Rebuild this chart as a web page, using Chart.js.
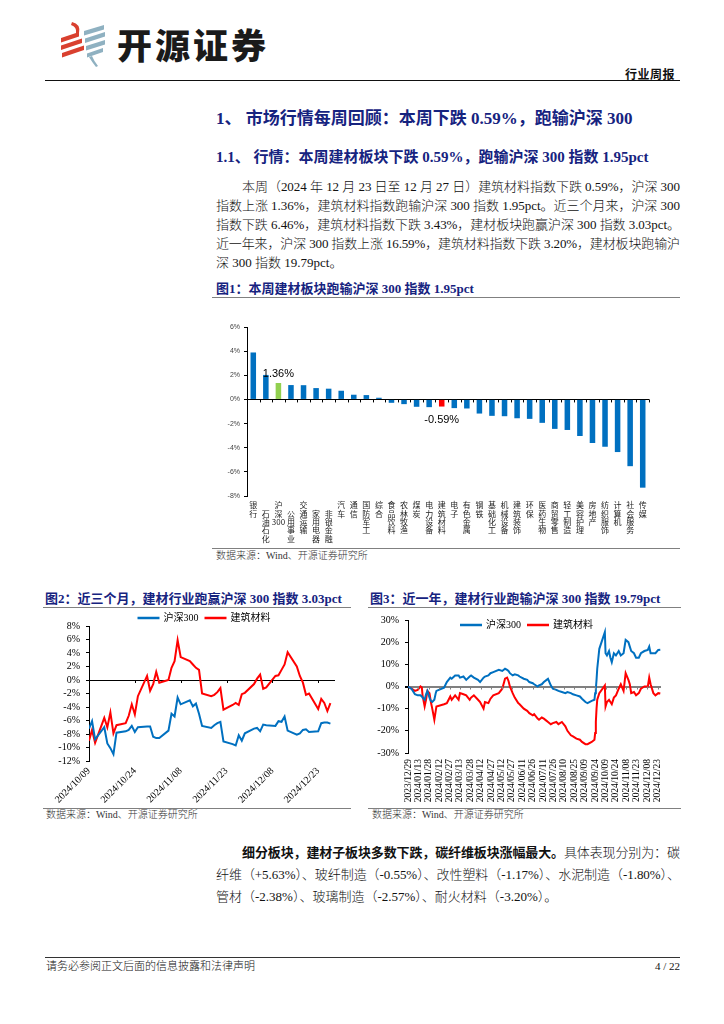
<!DOCTYPE html>
<html lang="zh-CN"><head><meta charset="utf-8">
<script src="https://cdn.jsdelivr.net/npm/chart.js@4.4.1/dist/chart.umd.min.js"></script>
<style>
html,body{margin:0;padding:0;background:#fff;}
body{width:724px;height:1024px;position:relative;overflow:hidden;font-family:"Liberation Serif","Noto Sans CJK SC",serif;color:#111;}
.a{position:absolute;white-space:nowrap;}
.navy{color:#16237f;font-weight:bold;}
.rule{position:absolute;height:0;border-top:1.5px solid #808080;}
.pl{position:absolute;font-size:13px;line-height:19px;white-space:nowrap;font-weight:300;}
.src{position:absolute;font-size:10px;line-height:12px;color:#333;white-space:nowrap;font-weight:300;}
.box{position:absolute;}
</style>
</head><body>
<svg class="a" style="left:0;top:0" width="724" height="80">
  <g fill="#d9402f">
    <path d="M72,22 Q81,24 79,33 L76,33 Q77,27 71,25 Z"/>
    <polygon points="61,38 79,32 79,36.5 61,42.5"/>
    <polygon points="61,45.5 82,38.5 82,43 61,50"/>
    <polygon points="62,53 84,45.5 84,50 62,57.5"/>
  </g>
  <g fill="#8fb1c1">
    <polygon points="84,31 104,25 104,29.5 84,35.5"/>
    <polygon points="85,38.5 105,32 105,36.5 85,43"/>
    <polygon points="86,46 105,40 105,44.5 86,50.5"/>
    <polygon points="87,53.5 103,48 103,52 87,57.5"/>
    <path d="M89,57 Q92,62 96,67 L98,66 Q94,61 92,56 Z"/>
  </g>
</svg>
<div class="a" style="left:117px;top:22px;font-family:'Noto Sans CJK SC',sans-serif;font-weight:900;font-size:35px;line-height:44px;letter-spacing:3px;color:#1a1a1a;">开源证券</div>
<div class="a" style="left:625px;top:66px;font-family:'Noto Sans CJK SC',sans-serif;font-weight:bold;font-size:12px;line-height:16px;letter-spacing:0.5px;color:#111;">行业周报</div>
<div class="rule" style="left:45px;top:80px;width:635px;border-top:1.5px solid #111;"></div>

<div class="a navy" style="left:216px;top:109px;font-size:17px;line-height:20px;">1、 市场行情每周回顾：本周下跌 0.59%，跑输沪深 300</div>
<div class="a navy" style="left:216px;top:147px;font-size:15px;line-height:20px;">1.1、 行情：本周建材板块下跌 0.59%，跑输沪深 300 指数 1.95pct</div>

<div class="pl" data-jw="438" style="left:242px;top:176.5px;">本周（2024 年 12 月 23 日至 12 月 27 日）建筑材料指数下跌 0.59%，沪深 300</div>
<div class="pl" data-jw="464" style="left:216px;top:195.5px;">指数上涨 1.36%，建筑材料指数跑输沪深 300 指数 1.95pct。近三个月来，沪深 300</div>
<div class="pl" data-jw="464" style="left:216px;top:214.5px;">指数下跌 6.46%，建筑材料指数下跌 3.43%，建材板块跑赢沪深 300 指数 3.03pct。</div>
<div class="pl" data-jw="464" style="left:216px;top:233.5px;">近一年来，沪深 300 指数上涨 16.59%，建筑材料指数下跌 3.20%，建材板块跑输沪</div>
<div class="pl" style="left:216px;top:252.5px;">深 300 指数 19.79pct。</div>

<div class="a navy" style="left:216px;top:279px;font-size:13px;line-height:20px;">图1：本周建材板块跑输沪深 300 指数 1.95pct</div>
<div class="rule" style="left:212px;top:297px;width:468px;"></div>
<div class="box" style="left:212px;top:300px;width:468px;height:248px;"><canvas id="c1"></canvas></div>
<div class="rule" style="left:212px;top:548px;width:468px;"></div>
<div class="src" style="left:216px;top:550px;">数据来源：Wind、开源证券研究所</div>

<div class="a navy" style="left:45px;top:589px;font-size:13px;line-height:20px;">图2：近三个月，建材行业跑赢沪深 300 指数 3.03pct</div>
<div class="rule" style="left:43px;top:607px;width:308px;"></div>
<div class="box" style="left:43px;top:608px;width:307px;height:200px;"><canvas id="c2"></canvas></div>
<div class="rule" style="left:43px;top:808px;width:308px;"></div>
<div class="src" style="left:46px;top:809px;">数据来源：Wind、开源证券研究所</div>

<div class="a navy" style="left:370px;top:589px;font-size:13px;line-height:20px;">图3：近一年，建材行业跑输沪深 300 指数 19.79pct</div>
<div class="rule" style="left:368px;top:607px;width:313px;"></div>
<div class="box" style="left:368px;top:608px;width:314px;height:200px;"><canvas id="c3"></canvas></div>
<div class="rule" style="left:368px;top:808px;width:313px;"></div>
<div class="src" style="left:372px;top:809px;">数据来源：Wind、开源证券研究所</div>

<div class="pl" data-jw="438" style="left:242px;top:841.5px;line-height:21px;"><b style="font-weight:bold">细分板块，建材子板块多数下跌，碳纤维板块涨幅最大。</b>具体表现分别为：碳</div>
<div class="pl" data-jw="464" style="left:216px;top:863.5px;line-height:21px;">纤维（+5.63%）、玻纤制造（-0.55%）、改性塑料（-1.17%）、水泥制造（-1.80%）、</div>
<div class="pl" style="left:216px;top:885.5px;line-height:21px;">管材（-2.38%）、玻璃制造（-2.57%）、耐火材料（-3.20%）。</div>

<div class="rule" style="left:45px;top:957px;width:635px;border-top:1.5px solid #333;"></div>
<div class="a" style="left:46px;top:959px;font-size:11px;line-height:14px;font-weight:300;">请务必参阅正文后面的信息披露和法律声明</div>
<div class="a" style="left:640px;top:959px;width:40px;text-align:right;font-size:11px;line-height:14px;">4 / 22</div>

<script>
// ---------- data ----------
const sectorNames = ['银行','石油石化','沪深300','公用事业','交通运输','家用电器','非银金融','汽车','通信','国防军工','综合','食品饮料','农林牧渔','煤炭','电力设备','建筑材料','电子','有色金属','钢铁','基础化工','机械设备','建筑装饰','环保','医药生物','商贸零售','轻工制造','美容护理','房地产','纺织服饰','计算机','社会服务','传媒'];
const weeklyChange = [3.89,2.03,1.36,1.19,1.18,0.94,0.89,0.72,0.39,0.36,0.14,-0.28,-0.39,-0.61,-0.64,-0.59,-0.72,-0.75,-1.17,-1.36,-1.39,-1.56,-1.61,-1.94,-2.44,-2.53,-3.03,-3.61,-3.92,-4.36,-5.53,-7.31];
const barTicks = [-8,-6,-4,-2,0,2,4,6];

const dates3m = ['2024-10-09','2024-10-10','2024-10-11','2024-10-14','2024-10-15','2024-10-16','2024-10-17','2024-10-18','2024-10-21','2024-10-22','2024-10-23','2024-10-24','2024-10-25','2024-10-28','2024-10-29','2024-10-30','2024-10-31','2024-11-01','2024-11-04','2024-11-05','2024-11-06','2024-11-07','2024-11-08','2024-11-11','2024-11-12','2024-11-13','2024-11-14','2024-11-15','2024-11-18','2024-11-19','2024-11-20','2024-11-21','2024-11-22','2024-11-25','2024-11-26','2024-11-27','2024-11-28','2024-11-29','2024-12-02','2024-12-03','2024-12-04','2024-12-05','2024-12-06','2024-12-09','2024-12-10','2024-12-11','2024-12-12','2024-12-13','2024-12-16','2024-12-17','2024-12-18','2024-12-19','2024-12-20','2024-12-23','2024-12-24','2024-12-25','2024-12-26','2024-12-27'];
const hs300_3m = [-7.2,-6.1,-8.8,-7.0,-9.4,-10.1,-11.0,-7.8,-7.6,-7.4,-6.8,-7.7,-7.0,-6.9,-6.9,-8.4,-8.6,-8.6,-7.5,-5.0,-5.4,-2.6,-3.6,-3.0,-3.9,-3.5,-5.0,-6.8,-7.1,-6.7,-6.4,-6.2,-9.1,-9.5,-9.7,-8.2,-9.0,-7.9,-7.2,-7.1,-7.6,-6.6,-6.7,-6.8,-6.1,-6.2,-5.4,-7.5,-8.1,-7.9,-7.4,-7.3,-7.7,-7.6,-6.4,-6.3,-6.3,-6.46];
const jcmat_3m = [-9.0,-7.4,-9.3,-5.6,-7.0,-4.8,-7.9,-6.7,-6.4,-5.3,-3.6,-5.1,-2.4,0.6,-1.6,-0.6,1.2,-0.4,0.0,1.8,2.8,5.9,3.4,2.8,2.3,1.8,1.5,-2.0,-2.4,-2.2,-1.8,-1.2,-4.4,-3.7,-3.4,-3.7,-2.1,-1.9,-0.6,0.2,0.8,-1.3,-1.1,0.6,0.7,1.5,2.3,4.1,2.0,0.6,-0.4,-2.2,-2.0,-4.3,-2.8,-3.4,-4.6,-3.43];
const ticks3m = [-12,-10,-8,-6,-4,-2,0,2,4,6,8];

const dates1y = ['2023-12-29','2024-01-03','2024-01-08','2024-01-12','2024-01-16','2024-01-18','2024-01-19','2024-01-22','2024-01-24','2024-01-26','2024-01-29','2024-01-31','2024-02-02','2024-02-05','2024-02-07','2024-02-08','2024-02-19','2024-02-23','2024-02-28','2024-03-01','2024-03-06','2024-03-11','2024-03-13','2024-03-18','2024-03-22','2024-03-27','2024-03-29','2024-04-02','2024-04-08','2024-04-11','2024-04-16','2024-04-18','2024-04-23','2024-04-26','2024-04-30','2024-05-08','2024-05-13','2024-05-17','2024-05-20','2024-05-22','2024-05-24','2024-05-28','2024-05-31','2024-06-05','2024-06-07','2024-06-13','2024-06-18','2024-06-21','2024-06-26','2024-06-28','2024-07-03','2024-07-05','2024-07-09','2024-07-12','2024-07-16','2024-07-18','2024-07-22','2024-07-25','2024-07-30','2024-08-02','2024-08-07','2024-08-12','2024-08-15','2024-08-20','2024-08-23','2024-08-28','2024-09-02','2024-09-05','2024-09-10','2024-09-13','2024-09-19','2024-09-23','2024-09-24','2024-09-25','2024-09-26','2024-09-27','2024-09-30','2024-10-08','2024-10-09','2024-10-11','2024-10-14','2024-10-16','2024-10-18','2024-10-21','2024-10-24','2024-10-28','2024-10-31','2024-11-04','2024-11-07','2024-11-11','2024-11-13','2024-11-15','2024-11-19','2024-11-22','2024-11-26','2024-11-29','2024-12-04','2024-12-09','2024-12-11','2024-12-13','2024-12-17','2024-12-20','2024-12-24','2024-12-27'];
const hs300_1y = [0,-1,-3.5,-4,-4,-4.5,-5,-6,-3.5,-2,-5,-6.5,-7,-6,-3,-2,-0.5,2,4,3.5,5,5,4,4.5,3,4.5,5,4,3,2,4,4.5,5,6,6.5,7.5,7,8,7.5,7,6,5,5.5,5,4.5,3.5,3,2,1.5,1,0,0.5,1,2,3,3.5,0.5,-1,-1.5,-2,-2.5,-3,-2.5,-3,-3.5,-4,-4.5,-5.5,-7,-7.5,-6.5,-6,-3,-1,3,8,17,24.5,15,14,16,13,11,15,14,16,14,15,21,20,18,16,15,13,13,15,16,16.5,18,15,15,15,16.5,16.59];
const jcmat_1y = [0,-1,-2,-1.5,0,-0.5,-4,-9,-6,-2,-3,-7,-10,-15,-11,-9,-8,-7.5,-4.5,-6,-4,-6,-3,-3.5,-4,-6,-5,-4,-6,-7,-10,-7,-7.5,-5.5,-4,-3,-1,3.5,4,2.5,0,-3,-5,-7.5,-8,-10,-11,-12,-13,-12.5,-14.5,-15,-14,-14.5,-15.5,-16,-17,-16.5,-16,-17,-16,-18,-20,-22,-22.5,-23.5,-24,-25,-26,-26,-25,-24,-21,-16,-10,-6,-3,0.5,-9,-7,-6,-7,-8,-5,-4,-1,1,-2,6,3,1,-3,-2.5,-4,-3,-1,0,0,4,1,-3,-4,-3,-3.20];
const ticks1y = [-30,-20,-10,0,10,20,30];

// ---------- justify text lines ----------
document.querySelectorAll('[data-jw]').forEach(el=>{
  const target=+el.dataset.jw; const w=el.getBoundingClientRect().width;
  const n=Array.from(el.textContent).length;
  el.style.letterSpacing=((target-w)/(n-1)).toFixed(3)+'px';
});

// ---------- helpers ----------
const SERIF = '"Liberation Serif", "Noto Sans CJK SC", serif';
const CJK = '"Noto Sans CJK SC", sans-serif';
const BLUE = '#0070C0', RED = '#FF0000', GREEN = '#92D050';
function ymd(s){const p=s.split('-').map(Number);return Date.UTC(p[0],p[1]-1,p[2]);}
function dayOff(s,base){return Math.round((ymd(s)-ymd(base))/864e5);}
function fmtDay(base,v){const d=new Date(ymd(base)+v*864e5);const m=String(d.getUTCMonth()+1).padStart(2,'0');const dd=String(d.getUTCDate()).padStart(2,'0');return d.getUTCFullYear()+'/'+m+'/'+dd;}
const transparent='rgba(0,0,0,0)';

const lineLegend = {
  id:'lineLegend',
  afterDraw(chart,args,o){
    const ctx=chart.ctx, ca=chart.chartArea;
    ctx.save(); ctx.font=o.font; ctx.textBaseline='middle'; ctx.textAlign='left';
    const items=chart.data.datasets.map(ds=>({t:ds.label,c:ds.borderColor,w:ctx.measureText(ds.label).width}));
    const total=items.reduce((s,it)=>s+o.len+o.gap+it.w,0)+o.itemGap*(items.length-1);
    let x=(ca.left+ca.right)/2+o.dx-total/2; const y=ca.top+o.dy;
    items.forEach(it=>{
      ctx.strokeStyle=it.c; ctx.lineWidth=2.5; ctx.beginPath(); ctx.moveTo(x,y); ctx.lineTo(x+o.len,y); ctx.stroke();
      x+=o.len+o.gap; ctx.fillStyle='#000'; ctx.fillText(it.t,x,y); x+=it.w+o.itemGap;
    });
    ctx.restore();
  }
};
const zeroTicks = {
  id:'zeroTicks',
  afterDatasetsDraw(chart,args,o){
    const xs=chart.scales.x, ys=chart.scales.y, ctx=chart.ctx;
    const y0=ys.getPixelForValue(0);
    ctx.save(); ctx.strokeStyle=o.color; ctx.lineWidth=1; ctx.beginPath();
    if(o.category){
      const n=chart.data.labels.length, step=xs.getPixelForValue(1)-xs.getPixelForValue(0);
      for(let i=0;i<=n;i++){const x=Math.round(xs.getPixelForValue(i)-step/2)+0.5; ctx.moveTo(x,y0); ctx.lineTo(x,y0+o.len);}
    } else {
      xs.ticks.forEach(t=>{if(t.value===0) return; const x=Math.round(xs.getPixelForValue(t.value))+0.5; ctx.moveTo(x,y0); ctx.lineTo(x,y0+o.len);});
    }
    ctx.stroke(); ctx.restore();
  }
};
const valueLabels = {
  id:'valueLabels',
  afterDatasetsDraw(chart,args,o){
    const ctx=chart.ctx, meta=chart.getDatasetMeta(0), data=chart.data.datasets[0].data;
    ctx.save(); ctx.font='11px "Liberation Sans", Arial, sans-serif'; ctx.fillStyle='#000'; ctx.textAlign='center';
    o.indices.forEach(i=>{
      const el=meta.data[i], v=data[i];
      if(v>=0){ctx.textBaseline='bottom'; ctx.fillText(v.toFixed(2)+'%',el.x,el.y-4);}
      else {ctx.textBaseline='top'; ctx.fillText(v.toFixed(2)+'%',el.x,el.y+8);}
    });
    ctx.restore();
  }
};

// ---------- chart 1: bar ----------
const staggered=[1,3,5,6];
const barLabels = sectorNames.map((n,i)=>{const ch = n==='沪深300' ? ['沪','深','300'] : Array.from(n); return staggered.includes(i)?[''].concat(ch):ch;});
const barColors = sectorNames.map(n=> n==='沪深300'?GREEN:(n==='建筑材料'?RED:BLUE));
const hlIdx = [sectorNames.indexOf('沪深300'), sectorNames.indexOf('建筑材料')];

new Chart(document.getElementById('c1'),{
  type:'bar',
  data:{labels:barLabels,datasets:[{data:weeklyChange,backgroundColor:barColors,barPercentage:0.44,categoryPercentage:1}]},
  options:{
    animation:false,responsive:true,maintainAspectRatio:false,
    layout:{padding:{top:27,right:31,left:0,bottom:0}},
    plugins:{legend:{display:false},tooltip:{enabled:false},zeroTicks:{category:true,color:'#000',len:3},valueLabels:{indices:hlIdx}},
    scales:{
      x:{grid:{display:false,drawTicks:false},border:{display:false},
         ticks:{autoSkip:false,maxRotation:0,minRotation:0,padding:5,color:'#222',font:{size:8,family:CJK,lineHeight:1.05}},
         afterFit(s){s.height=52;}},
      y:{min:-8,max:6,afterBuildTicks(s){s.ticks=barTicks.map(v=>({value:v}));},
         ticks:{autoSkip:false,callback:v=>v+'%',color:'#444',padding:4,font:{size:7,family:'"Liberation Sans", Arial, sans-serif'}},
         grid:{color:c=>c.tick&&c.tick.value===0?'#000':transparent,tickColor:'#000',tickLength:3,lineWidth:1},
         border:{display:true,color:'#000',width:1},
         afterFit(s){s.width=35;}}
    }
  },
  plugins:[zeroTicks,valueLabels]
});

// ---------- line chart factory ----------
function lineChart(id,base,dates,s1,s2,yt,cfg){
  const pts=a=>dates.map((d,i)=>({x:dayOff(d,base),y:a[i]}));
  return new Chart(document.getElementById(id),{
    type:'line',
    data:{datasets:[
      {label:'沪深300',data:pts(s1),borderColor:BLUE,backgroundColor:BLUE,borderWidth:2,pointRadius:0,tension:0},
      {label:'建筑材料',data:pts(s2),borderColor:RED,backgroundColor:RED,borderWidth:2,pointRadius:0,tension:0}
    ]},
    options:{
      animation:false,responsive:true,maintainAspectRatio:false,
      layout:{padding:cfg.pad},
      plugins:{legend:{display:false},tooltip:{enabled:false},
        lineLegend:{font:'10px '+SERIF,len:22,gap:4,itemGap:6,dx:-8,dy:cfg.legDy},
        zeroTicks:{color:cfg.zeroColor,len:3}},
      scales:{
        x:{type:'linear',min:0,max:cfg.xmax,grid:{display:false,drawTicks:false},border:{display:false},
           ticks:{stepSize:15,includeBounds:false,autoSkip:false,maxRotation:cfg.rot,minRotation:cfg.rot,padding:cfg.xpad,color:'#000',
                  font:{size:cfg.xfs,family:SERIF},callback:v=>fmtDay(base,v)},
           afterFit(s){s.height=cfg.xh;}},
        y:{min:yt[0],max:yt[yt.length-1],afterBuildTicks(s){s.ticks=yt.map(v=>({value:v}));},
           ticks:{autoSkip:false,callback:v=>v+'%',color:'#000',padding:6,font:{size:10,family:SERIF}},
           grid:{color:c=>c.tick&&c.tick.value===0?cfg.zeroColor:transparent,lineWidth:c=>c.tick&&c.tick.value===0?cfg.zeroW:1,tickColor:'#000',tickLength:3},
           border:{display:true,color:'#000',width:1},
           afterFit(s){s.width=cfg.yw;}}
      }
    },
    plugins:[lineLegend,zeroTicks]
  });
}
lineChart('c2','2024-10-09',dates3m,hs300_3m,jcmat_3m,ticks3m,{pad:{top:18,right:15,left:0,bottom:0},xmax:80.5,rot:45,xpad:4,xfs:10,xh:47,yw:46,legDy:-8,zeroColor:'#000',zeroW:1});
lineChart('c3','2023-12-29',dates1y,hs300_1y,jcmat_1y,ticks1y,{pad:{top:10,right:21,left:0,bottom:0},xmax:365,rot:90,xpad:6,xfs:9.5,xh:55,yw:40,legDy:5,zeroColor:'#808080',zeroW:2});
</script>
</body></html>
